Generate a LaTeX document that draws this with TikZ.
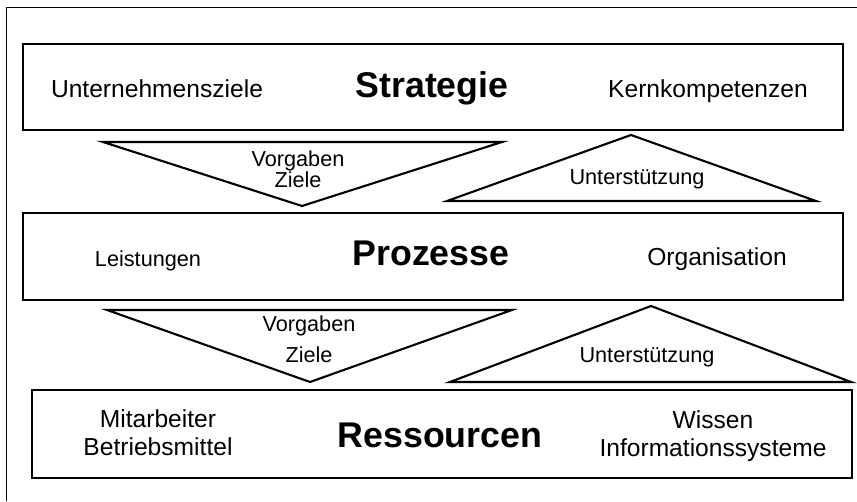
\documentclass[tikz,border=0pt]{standalone}
\usepackage{fontspec}
\setmainfont{Liberation Sans}

\tikzset{
  rahmen/.style={line width=2.5pt},
  dreieck/.style={line width=1.8pt, line join=miter},
  titel/.style={font=\fontsize{30.5}{34}\selectfont\bfseries, anchor=base},
  eintrag/.style={font=\fontsize{21}{23}\selectfont, align=center, anchor=base},
  klein/.style={font=\fontsize{18.5}{17}\selectfont, align=center, anchor=base}
}

\begin{document}
\begin{tikzpicture}[x=0.3cm, y=0.3cm]
    \useasboundingbox (0,0) rectangle (85.7,50.1);

    % Aeusserer Rahmen
    \draw[line width=0.8pt] (0.6,0) -- (0.6,49.4) -- (85.7,49.4);

    % Ebenen
    \draw[rahmen] (2.3,45.7) rectangle (84.3,37.1);
    \draw[rahmen] (2.3,28.8) rectangle (84.3,20.1);
    \draw[rahmen] (3.2,11.1) rectangle (85.2,2.3);

    % Eckpunkte der Dreiecke
    \coordinate (V1a) at (10.3,35.9);
    \coordinate (V1b) at (50.2,35.9);
    \coordinate (V1s) at (30.2,29.5);
    \coordinate (U1s) at (63.1,36.6);
    \coordinate (U1a) at (44.7,30.0);
    \coordinate (U1b) at (81.6,30.0);
    \coordinate (V2a) at (10.7,19.1);
    \coordinate (V2b) at (51.2,19.1);
    \coordinate (V2s) at (31.0,11.9);
    \coordinate (U2s) at (65.1,19.5);
    \coordinate (U2a) at (45.0,11.9);
    \coordinate (U2b) at (85.1,11.9);

    % Dreiecke
    \draw[dreieck] (V1a) -- (V1b) -- (V1s) -- cycle;
    \draw[dreieck] (U1a) -- (U1b) -- (U1s) -- cycle;
    \draw[dreieck] (V2a) -- (V2b) -- (V2s) -- cycle;
    \draw[dreieck] (U2a) -- (U2b) -- (U2s) -- cycle;

    % Strategie
    \node[eintrag] (ziele) at (15.7,40.3) {Unternehmensziele};
    \node[titel] (strategie) at (43.2,40.3) {Strategie};
    \node[eintrag] (kern) at (70.8,40.3) {Kernkompetenzen};

    % Prozesse
    \node[klein] (leistungen) at (14.8,23.4) {Leistungen};
    \node[titel] (prozesse) at (43.1,23.5) {Prozesse};
    \node[eintrag] (organisation) at (71.7,23.5) {Organisation};

    % Ressourcen
    \node[eintrag] (mitarbeiter) at (15.8,4.6) {Mitarbeiter\\[0.5pt]Betriebsmittel};
    \node[titel] (ressourcen) at (44.0,5.4) {Ressourcen};
    \node[eintrag] (wissen) at (71.3,4.5) {Wissen\\[0.5pt]Informationssysteme};

    % Beschriftung der Dreiecke
    \node[klein] (vorgaben1) at (29.8,31.3) {Vorgaben\\Ziele};
    \node[klein] (unterst1) at (63.7,31.6) {Unterstützung};
    \node[klein] (vorgaben2) at (30.9,13.8) {Vorgaben\\[8.5pt]Ziele};
    \node[klein] (unterst2) at (64.7,13.8) {Unterstützung};
\end{tikzpicture}
\end{document}
